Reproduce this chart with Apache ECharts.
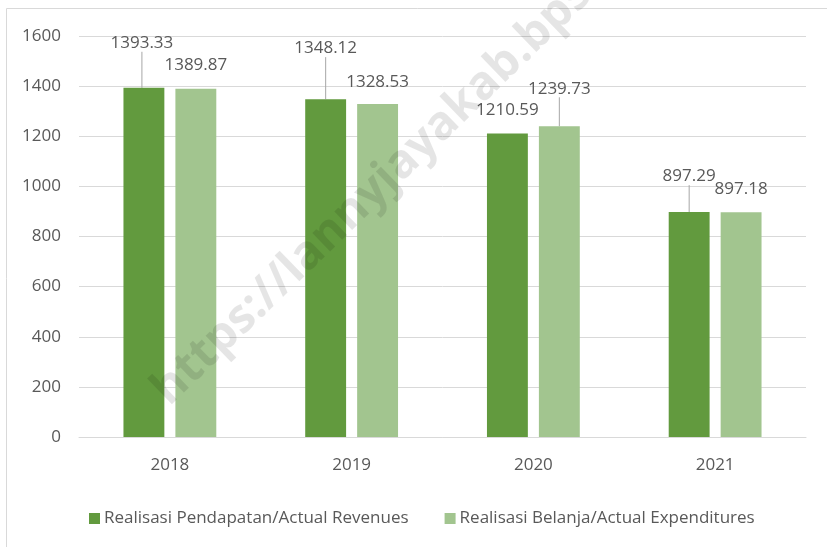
<!DOCTYPE html>
<html><head><meta charset="utf-8">
<script src="https://cdn.jsdelivr.net/npm/echarts@6/dist/echarts.min.js"></script>
<style>html,body{margin:0;padding:0;background:#fff}#c{width:827px;height:547px}</style>
</head><body><div id="c"></div>
<script>
const years = ['2018', '2019', '2020', '2021'];
const revenues = [1393.33, 1348.12, 1210.59, 897.29];
const expenditures = [1389.87, 1328.53, 1239.73, 897.18];
const yTicks = [0, 200, 400, 600, 800, 1000, 1200, 1400, 1600];
const seriesNames = ['Realisasi Pendapatan/Actual Revenues', 'Realisasi Belanja/Actual Expenditures'];

// label displacement (layout only)
const revShift = [[-2, -31, true], [0, -37, true], [0, -10, false], [0, -22, true]];
const expShift = [[0, -10, false], [0, -8, false], [0, -24, true], [0, -9, false]];

const FONT = 'Open Sans';
const FS = 17;
const TXT = '#595959';
const chart = echarts.init(document.getElementById('c'), null, {renderer: 'canvas'});

function mk(vals, shifts) {
  return vals.map((v, i) => ({value: v, labelLine: {show: shifts[i][2]}}));
}
chart.setOption({
  animation: false,
  textStyle: {fontFamily: FONT},
  graphic: [
    {type: 'rect', shape: {x: 6.5, y: 8.5, width: 840, height: 560}, style: {fill: 'none', stroke: '#d9d9d9', lineWidth: 1}, z: 0},
    {type: 'text', x: 160, y: 397, rotation: 44 * Math.PI / 180, z: 100,
     style: {text: 'https://lannyjayakab.bps.go.id', font: 'bold 47px "Open Sans"', fill: 'rgba(0,0,0,0.10)', align: 'left', verticalAlign: 'middle'}}
  ],
  grid: {left: 79, right: 21, top: 36, bottom: 110},
  legend: {
    left: 84, top: 505, itemWidth: 11, itemHeight: 11, itemGap: 36, icon: 'rect',
    textStyle: {color: TXT, fontSize: FS, fontFamily: FONT, padding: [0, 0, 0, -1]},
    data: seriesNames
  },
  xAxis: {
    type: 'category', data: years,
    axisLine: {lineStyle: {color: '#d9d9d9', width: 1}},
    axisTick: {show: false},
    axisLabel: {color: TXT, fontSize: FS, margin: 20, fontFamily: FONT}
  },
  yAxis: {
    type: 'value', min: yTicks[0], max: yTicks[yTicks.length - 1], interval: 200,
    axisLine: {show: false}, axisTick: {show: false},
    splitLine: {lineStyle: {color: '#d9d9d9', width: 1}},
    axisLabel: {color: TXT, fontSize: FS, margin: 18, fontFamily: FONT, formatter: v => String(v)}
  },
  series: [
    {
      name: seriesNames[0], type: 'bar', data: mk(revenues, revShift),
      barWidth: '22.5%', barGap: '27%',
      itemStyle: {color: '#629a3e'},
      label: {show: true, position: 'top', distance: 5, color: TXT, fontSize: FS, fontFamily: FONT},
      labelLine: {show: true, lineStyle: {color: '#a6a6a6', width: 1}},
      labelLayout: p => ({dx: revShift[p.dataIndex][0], dy: revShift[p.dataIndex][1]})
    },
    {
      name: seriesNames[1], type: 'bar', data: mk(expenditures, expShift),
      barWidth: '22.5%',
      itemStyle: {color: '#a2c58f'},
      label: {show: true, position: 'top', distance: 5, color: TXT, fontSize: FS, fontFamily: FONT},
      labelLine: {show: true, lineStyle: {color: '#a6a6a6', width: 1}},
      labelLayout: p => ({dx: expShift[p.dataIndex][0], dy: expShift[p.dataIndex][1]})
    }
  ]
});
</script></body></html>
